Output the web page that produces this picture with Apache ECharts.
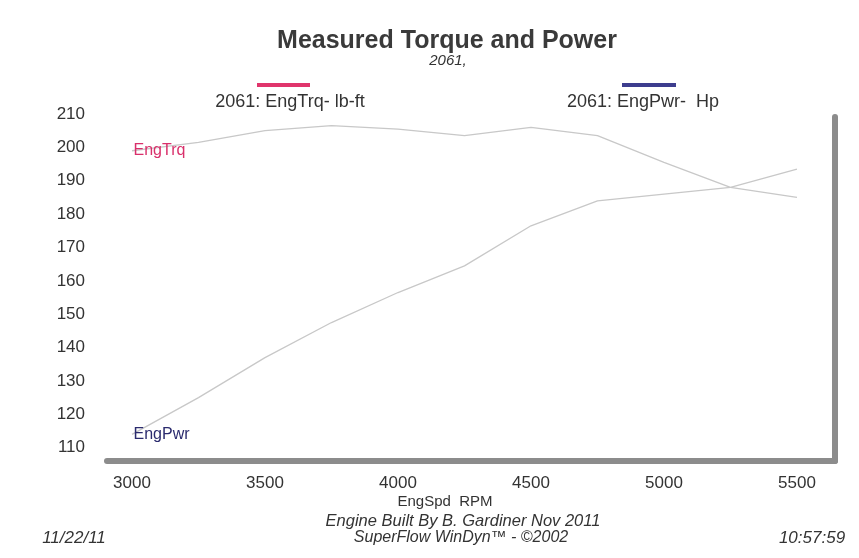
<!DOCTYPE html>
<html>
<head>
<meta charset="utf-8">
<script src="https://cdn.jsdelivr.net/npm/echarts@6/dist/echarts.min.js"></script>
<style>html,body{margin:0;padding:0;background:#fff;}#c{width:859px;height:558px;}</style>
</head>
<body>
<div id="c"></div>
<script>
const rpm = [3000, 3250, 3500, 3750, 4000, 4250, 4500, 4750, 5000, 5250, 5500];
const torque = [199, 201.5, 205, 206.5, 205.5, 203.5, 206, 203.5, 195.5, 188, 185];
const power = [114, 125, 137, 147.5, 156.5, 164.5, 176.5, 184, 186, 188, 193.5];
const yTicks = [110, 120, 130, 140, 150, 160, 170, 180, 190, 200, 210];
const xTicks = [3000, 3500, 4000, 4500, 5000, 5500];

const FONT = 'Liberation Sans, Arial, sans-serif';
const LINE = '#c8c8c8';
const AXIS = '#8c8c8c';

function seriesData(vals, name, color) {
  return rpm.map((r, i) => {
    if (i === 0) {
      return {
        value: [r, vals[i]],
        label: {
          show: true, formatter: name, position: 'right', distance: 1,
          color: color, fontSize: 16, fontFamily: FONT
        }
      };
    }
    return [r, vals[i]];
  });
}

const chart = echarts.init(document.getElementById('c'), null, {renderer: 'canvas'});
const txt = (x, y, text, opts) => Object.assign({
  type: 'text', x: x, y: y,
  style: Object.assign({
    text: text, fill: '#333', font: '15px ' + FONT,
    textAlign: 'center', textVerticalAlign: 'middle'
  }, opts || {})
});

chart.setOption({
  animation: false,
  backgroundColor: '#ffffff',
  grid: [
    {left: 107, right: 24, top: 110.7, bottom: 97},
    {left: 107, right: 24, top: 117, bottom: 97}
  ],
  xAxis: [{
    type: 'value', min: 2906, max: 5643, gridIndex: 0,
    splitLine: {show: false},
    axisTick: {show: false},
    axisLine: {show: true, onZero: false, lineStyle: {color: AXIS, width: 6}},
    axisLabel: {customValues: xTicks, formatter: v => String(v), color: '#333', fontSize: 17, fontFamily: FONT, margin: 14}
  }, {
    type: 'value', min: 2906, max: 5643, gridIndex: 1, show: false
  }],
  yAxis: [{
    type: 'value', min: 106, max: 211, gridIndex: 0,
    splitLine: {show: false},
    axisTick: {show: false},
    axisLine: {show: false},
    axisLabel: {customValues: yTicks, formatter: v => String(v), color: '#333', fontSize: 17, fontFamily: FONT, margin: 22}
  }, {
    type: 'value', min: 106, max: 209, gridIndex: 1, position: 'right',
    splitLine: {show: false},
    axisTick: {show: false},
    axisLabel: {show: false},
    axisLine: {show: true, lineStyle: {color: AXIS, width: 6}}
  }],
  series: [{
    name: '2061: EngTrq- lb-ft', type: 'line', symbol: 'circle', symbolSize: 1, showSymbol: true,
    itemStyle: {color: 'rgba(0,0,0,0)'},
    data: seriesData(torque, 'EngTrq', '#d9306b'),
    lineStyle: {color: LINE, width: 1.3}, z: 3
  }, {
    name: '2061: EngPwr-  Hp', type: 'line', symbol: 'circle', symbolSize: 1, showSymbol: true,
    itemStyle: {color: 'rgba(0,0,0,0)'},
    data: seriesData(power, 'EngPwr', '#2b2b6e'),
    lineStyle: {color: LINE, width: 1.3}, z: 3
  }],
  graphic: [
    txt(447, 41, 'Measured Torque and Power', {font: 'bold 25px ' + FONT, fill: '#3a3a3a'}),
    txt(448, 61, '2061,', {font: 'italic 15px ' + FONT}),
    {type: 'rect', shape: {x: 257, y: 83, width: 53, height: 4}, style: {fill: '#e0356c'}},
    {type: 'rect', shape: {x: 622, y: 83, width: 54, height: 4}, style: {fill: '#3d3d8e'}},
    txt(290, 102, '2061: EngTrq- lb-ft', {font: '18px ' + FONT}),
    txt(643, 102, '2061: EngPwr-  Hp', {font: '18px ' + FONT}),
    txt(445, 502, 'EngSpd  RPM', {font: '15px ' + FONT}),
    txt(463, 521, 'Engine Built By B. Gardiner Nov 2011', {font: 'italic 16.5px ' + FONT}),
    txt(461, 538, 'SuperFlow WinDyn\u2122 - \u00a92002', {font: 'italic 16px ' + FONT}),
    txt(74, 538, '11/22/11', {font: 'italic 17px ' + FONT}),
    txt(812, 538, '10:57:59', {font: 'italic 17px ' + FONT})
  ]
});
</script>
</body>
</html>
